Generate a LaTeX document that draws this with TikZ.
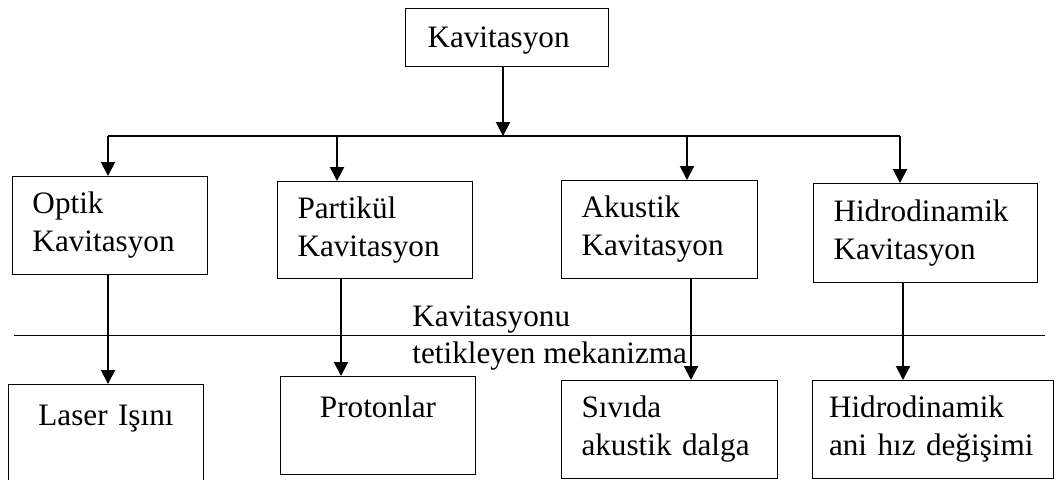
\documentclass[tikz,border=0pt]{standalone}
\usepackage{fontspec}
\setmainfont{Liberation Serif}
\usetikzlibrary{arrows.meta}

\begin{document}
\begin{tikzpicture}[x=0.5pt,y=-0.5pt,>={Triangle[width=7pt,length=7pt]},
    box/.style={draw,line width=0.5pt,anchor=north west,align=left,
      inner xsep=10pt,font=\fontsize{15.6pt}{19pt}\selectfont},
    arr/.style={->,line width=1pt},
    bus/.style={line width=1pt}]
      \clip (0,0) rectangle (1059,479);
      % Top
      \node[box,text width=79.5pt,inner xsep=11pt,inner ysep=0pt,
        text height=19.5pt,text depth=9.5pt] (kav) at (405,8) {Kavitasyon};
      % Kinds
      \node[box,text width=77.5pt,minimum height=49pt] (optik) at (12,176) {Optik\\Kavitasyon};
      \node[box,text width=77.5pt,minimum height=48.5pt] (partikul) at (277,181) {Partikül\\Kavitasyon};
      \node[box,text width=78pt,minimum height=49pt] (akustik) at (561,180) {Akustik\\Kavitasyon};
      \node[box,text width=92pt,minimum height=49.5pt] (hidro) at (813,183) {Hidrodinamik\\Kavitasyon};
      % Mechanisms
      \node[box,text width=77.5pt,align=center,inner ysep=0pt,
        text height=20.5pt,text depth=39.5pt] (laser) at (8,384) {Laser Işını};
      \node[box,text width=77.5pt,align=center,inner ysep=0pt,
        text height=20.5pt,text depth=28.5pt] (proton) at (280,376) {Protonlar};
      \node[box,text width=88pt,minimum height=49pt] (sivi) at (561,380) {Sıvıda\\akustik dalga};
      \node[box,text width=104pt,inner xsep=8.25pt,minimum height=49pt] (ani) at (812,380) {Hidrodinamik\\ani hız değişimi};
      % Bus
      \coordinate (bj) at (503,136);
      \coordinate (b1) at (108,136);
      \coordinate (b2) at (337,136);
      \coordinate (b3) at (687,136);
      \coordinate (b4) at (900,136);
      \draw[arr] (bj |- kav.south) -- (bj);
      \draw[bus] (b1) -- (b4);
      \draw[arr] (b1) -- (b1 |- optik.north);
      \draw[arr] (b2) -- (b2 |- partikul.north);
      \draw[arr] (b3) -- (b3 |- akustik.north);
      \draw[arr] (b4) -- (b4 |- hidro.north);
      % Down arrows
      \coordinate (d2) at (341,0);
      \coordinate (d3) at (691,0);
      \coordinate (d4) at (903,0);
      \draw[arr] (b1 |- optik.south) -- (b1 |- laser.north);
      \draw[arr] (d2 |- partikul.south) -- (d2 |- proton.north);
      \draw[arr] (d3 |- akustik.south) -- (d3 |- sivi.north);
      \draw[arr] (d4 |- hidro.south) -- (d4 |- ani.north);
      % Cut line
      \coordinate (cutL) at (14,335);
      \coordinate (cutR) at (1045,335);
      \draw[line width=0.5pt] (cutL) -- (cutR);
      \node[anchor=north west,inner sep=0pt,align=left,
        font=\fontsize{15.6pt}{18.5pt}\selectfont] (tetik) at (412,305) {Kavitasyonu\\tetikleyen mekanizma};
\end{tikzpicture}
\end{document}
